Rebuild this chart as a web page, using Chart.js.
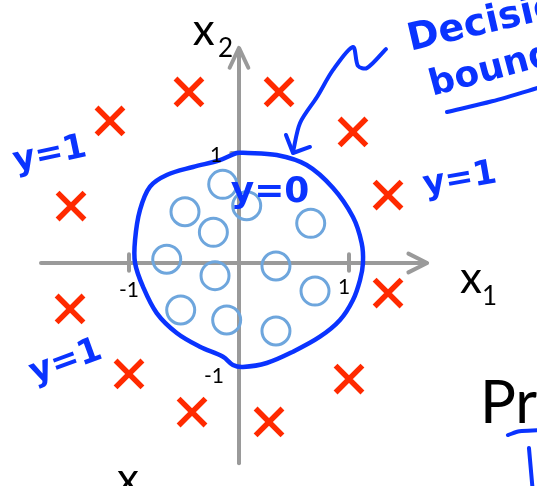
<!DOCTYPE html>
<html>
<head>
<meta charset="utf-8">
<script src="https://cdn.jsdelivr.net/npm/chart.js@4"></script>
<style>
  html, body { margin: 0; padding: 0; background: #fff; }
  #wrap { width: 537px; height: 486px; }
</style>
</head>
<body>
<div id="wrap"><canvas id="myChart" width="537" height="486"></canvas></div>
<script>
// y = 1 examples (red crosses)
const posX = [-0.455, 0.364, -1.173, 1.036, -1.527, 1.355, 1.355, -1.536, -1.000, 1.000, -0.427, 0.273];
const posY = [1.555, 1.555, 1.291, 1.191, 0.518, 0.618, -0.273, -0.418, -1.009, -1.055, -1.355, -1.445];
// y = 0 examples (blue circles)
const negX = [-0.148, -0.491, 0.070, -0.233, 0.652, -0.657, -0.218, 0.336, 0.691, -0.530, -0.112, 0.336];
const negY = [0.715, 0.466, 0.521, 0.279, 0.361, 0.034, -0.115, -0.027, -0.255, -0.427, -0.518, -0.618];
// hand drawn decision boundary
const boundX = [0.036, 0.343, 0.615, 0.855, 1.036, 1.115, 1.127, 1.100, 1.036, 0.918, 0.736, 0.491, 0.252, 0.036, -0.055, -0.145, -0.355, -0.566, -0.748, -0.873, -0.945, -0.945, -0.900, -0.809, -0.657, -0.418, -0.173, -0.021, 0.036];
const boundY = [1.003, 0.982, 0.891, 0.682, 0.418, 0.182, 0.000, -0.155, -0.336, -0.518, -0.670, -0.806, -0.909, -0.945, -0.927, -0.852, -0.761, -0.636, -0.455, -0.215, 0.000, 0.209, 0.482, 0.694, 0.800, 0.873, 0.936, 1.000, 1.003];
const tickValues = [-1, 1];
const tickLabels = ['-1', '1'];

const gray = '#9a9a9a';
const ink = '#0a33ff';

const pts = (xs, ys) => xs.map((x, i) => ({ x: x, y: ys[i] }));

function stroke(data, color, width, order, tension) {
    return {
        data: data,
        showLine: true,
        borderColor: color,
        borderWidth: width,
        pointRadius: 0,
        tension: tension || 0,
        fill: false,
        order: order,
        borderCapStyle: 'round',
        borderJoinStyle: 'round'
    };
}

const datasets = [
    // axes
    stroke([{x: -1.8, y: 0}, {x: 1.70, y: 0}], gray, 4, 9),
    stroke([{x: 1.54, y: 0.085}, {x: 1.71, y: 0}, {x: 1.54, y: -0.085}], gray, 4, 9),
    stroke([{x: 0, y: -1.82}, {x: 0, y: 1.94}], gray, 4, 9),
    stroke([{x: -0.085, y: 1.775}, {x: 0, y: 1.955}, {x: 0.085, y: 1.775}], gray, 4, 9),
    {
        data: pts(posX, posY),
        pointStyle: 'crossRot',
        pointRadius: 19,
        borderColor: '#ff2a00',
        borderWidth: 5.5,
        order: 6
    },
    {
        data: pts(negX, negY),
        pointStyle: 'circle',
        pointRadius: 14,
        borderColor: '#6ea6dd',
        backgroundColor: 'rgba(0,0,0,0)',
        borderWidth: 3,
        order: 5
    },
    stroke(pts(boundX, boundY), ink, 4.5, 4, 0.35),
    // arrow pointing at the boundary
    stroke([{x: 1.336, y: 1.945}, {x: 1.164, y: 1.773}, {x: 1.082, y: 1.791}, {x: 1.036, y: 1.964},
            {x: 0.855, y: 1.755}, {x: 0.709, y: 1.509}, {x: 0.555, y: 1.273}, {x: 0.491, y: 1.010}], ink, 4, 3, 0.3),
    stroke([{x: 0.427, y: 1.164}, {x: 0.491, y: 1.000}, {x: 0.645, y: 1.055}], ink, 4, 3),
    // underline of "Decision boundary"
    stroke([{x: 1.891, y: 1.373}, {x: 2.30, y: 1.47}, {x: 2.78, y: 1.61}], ink, 4, 3, 0.3),
    // strokes under "Pr"
    stroke([{x: 2.445, y: -1.564}, {x: 2.55, y: -1.53}, {x: 2.72, y: -1.52}], ink, 4, 3, 0.3),
    stroke([{x: 2.636, y: -1.682}, {x: 2.673, y: -2.10}], ink, 4, 3)
];

// tick marks on the x axis, and the top one on the x2 axis
tickValues.forEach(v => {
    datasets.push(stroke([{x: v, y: -0.07}, {x: v, y: 0.08}], gray, 4, 8));
});
datasets.push(stroke([{x: -0.07, y: tickValues[1]}, {x: 0.07, y: tickValues[1]}], gray, 4, 8));

const textPlugin = {
    id: 'slideText',
    afterDatasetsDraw(chart) {
        const ctx = chart.ctx;
        const sx = chart.scales.x, sy = chart.scales.y;
        function put(text, x, y, font, color, rot, align, base) {
            ctx.save();
            ctx.translate(sx.getPixelForValue(x), sy.getPixelForValue(y));
            ctx.rotate((rot || 0) * Math.PI / 180);
            ctx.font = font;
            ctx.fillStyle = color;
            ctx.textAlign = align || 'left';
            ctx.textBaseline = base || 'alphabetic';
            ctx.fillText(text, 0, 0);
            ctx.restore();
        }
        const black = '#000';
        // axis names
        put('x', -0.42, 1.982, '44px Lato', black);
        put('2', -0.19, 1.87, '26px Lato', black);
        put('x', 2.01, -0.273, '44px Lato', black);
        put('1', 2.21, -0.385, '26px Lato', black);
        put('x', -1.11, -2.10, '44px Lato', black);
        put('2', -0.89, -2.21, '26px Lato', black);
        put('Pr', 2.19, -1.455, '60px Lato', black);
        // tick labels
        put(tickLabels[1], -0.209, 0.982, '21px Lato', black, 0, 'center', 'middle');
        put(tickLabels[0], -1.0, -0.245, '21px Lato', black, 0, 'center', 'middle');
        put(tickLabels[1], 0.955, -0.218, '21px Lato', black, 0, 'center', 'middle');
        put(tickLabels[0], -0.227, -1.027, '21px Lato', black, 0, 'center', 'middle');
        // handwritten notes
        const hand = 'bold 34px "DejaVu Sans"';
        put('y=1', -1.718, 0.982, hand, ink, -12, 'center', 'middle');
        put('y=1', 2.009, 0.755, hand, ink, -10, 'center', 'middle');
        put('y=1', -1.573, -0.90, hand, ink, -20, 'center', 'middle');
        put('y=0', 0.282, 0.636, 'bold 36px "DejaVu Sans"', ink, 0, 'center', 'middle');
        put('Decision', 1.56, 1.93, 'bold 38px "DejaVu Sans"', ink, -13);
        put('boundary', 1.76, 1.52, 'bold 36px "DejaVu Sans"', ink, -15);
    }
};

new Chart(document.getElementById('myChart').getContext('2d'), {
    type: 'scatter',
    data: { datasets: datasets },
    options: {
        responsive: false,
        animation: false,
        events: [],
        layout: { padding: 0, autoPadding: false },
        scales: {
            x: { type: 'linear', display: false, min: -239 / 110, max: 298 / 110 },
            y: { type: 'linear', display: false, min: -223 / 110, max: 263 / 110 }
        },
        plugins: {
            legend: { display: false },
            tooltip: { enabled: false }
        }
    },
    plugins: [textPlugin]
});
</script>
</body>
</html>
